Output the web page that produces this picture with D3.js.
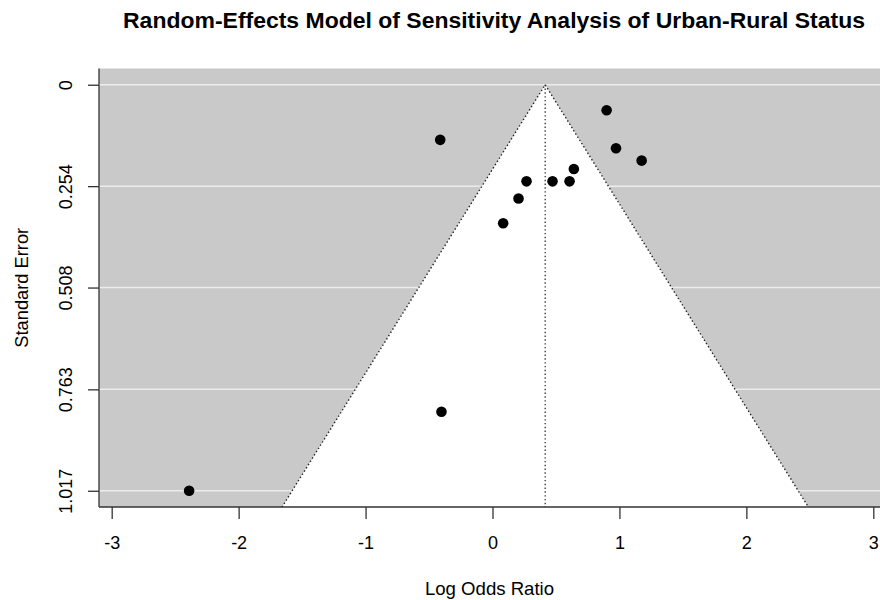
<!DOCTYPE html>
<html>
<head>
<meta charset="utf-8">
<script src="https://cdn.jsdelivr.net/npm/d3@7"></script>
<style>
  html, body { margin: 0; padding: 0; background: #fff; overflow: hidden; }
  svg { display: block; }
  text { font-family: "Liberation Sans", Arial, Helvetica, sans-serif; fill: #000; }
</style>
</head>
<body>
<svg id="chart" width="880" height="600"></svg>
<script>
// ---- Data ----
const titleText = "Random-Effects Model of Sensitivity Analysis of Urban-Rural Status";
const xLabel = "Log Odds Ratio";
const yLabel = "Standard Error";
const logOddsRatio = [0.899, -0.412, 0.973, 1.175, 0.641, 0.268, 0.473, 0.607, 0.205, 0.084, -0.402, -2.39];
const standardError = [0.064, 0.138, 0.159, 0.190, 0.211, 0.242, 0.242, 0.242, 0.285, 0.347, 0.819, 1.017];
const pooledEstimate = 0.415;
const xTicks = [-3, -2, -1, 0, 1, 2, 3];
const yTicks = [0, 0.254, 0.508, 0.763, 1.017];
const yTickLabels = ["0", "0.254", "0.508", "0.763", "1.017"];
const zCrit = 1.96;

// ---- Layout ----
const plot = { left: 99, right: 886, top: 68.5, bottom: 507 };
const svg = d3.select("#chart");

const maxSE = d3.max(standardError);
const yPad = 0.04 * maxSE;
const x = d3.scaleLinear().domain([-3.1, 3.1]).range([plot.left, plot.right]);
const y = d3.scaleLinear().domain([-yPad, maxSE + yPad]).range([plot.top, plot.bottom]);

const g = svg.append("g");

// background
g.append("rect")
  .attr("x", plot.left).attr("y", plot.top)
  .attr("width", plot.right - plot.left).attr("height", plot.bottom - plot.top)
  .attr("fill", "#c9c9c9");

// horizontal grid lines
g.selectAll("line.grid").data(yTicks).join("line")
  .attr("class", "grid")
  .attr("x1", plot.left).attr("x2", plot.right)
  .attr("y1", d => y(d)).attr("y2", d => y(d))
  .attr("stroke", "#ececec").attr("stroke-width", 1.5);

// funnel region
const seBottom = maxSE + yPad;
const funnelPts = [
  [pooledEstimate, 0],
  [pooledEstimate - zCrit * seBottom, seBottom],
  [pooledEstimate + zCrit * seBottom, seBottom]
];
g.append("polygon")
  .attr("points", funnelPts.map(p => [x(p[0]), y(p[1])].join(",")).join(" "))
  .attr("fill", "#ffffff");

// funnel dotted edges
const edgeLine = d3.line().x(d => x(d[0])).y(d => y(d[1]));
g.append("path")
  .attr("d", edgeLine([funnelPts[1], funnelPts[0], funnelPts[2]]))
  .attr("fill", "none").attr("stroke", "#222").attr("stroke-width", 1.4)
  .attr("stroke-dasharray", "1.4,2.4");

// reference line
g.append("line")
  .attr("x1", x(pooledEstimate)).attr("x2", x(pooledEstimate))
  .attr("y1", y(0)).attr("y2", y(seBottom))
  .attr("stroke", "#222").attr("stroke-width", 1.2)
  .attr("stroke-dasharray", "1.4,2.4");

// points
g.selectAll("circle.pt").data(logOddsRatio.map((v, i) => [v, standardError[i]])).join("circle")
  .attr("class", "pt")
  .attr("cx", d => x(d[0])).attr("cy", d => y(d[1]))
  .attr("r", 5.3).attr("fill", "#000");

// axes frame (L-shaped)
g.append("line")
  .attr("x1", plot.left).attr("x2", plot.left)
  .attr("y1", plot.top).attr("y2", plot.bottom)
  .attr("stroke", "#333").attr("stroke-width", 1.3);
g.append("line")
  .attr("x1", plot.left).attr("x2", 880)
  .attr("y1", plot.bottom).attr("y2", plot.bottom)
  .attr("stroke", "#333").attr("stroke-width", 1.3);

// x axis
const xAxis = d3.axisBottom(x).tickValues(xTicks).tickSize(12).tickPadding(6)
  .tickFormat(d => d3.format("d")(d).replace("−", "-"));
const xg = svg.append("g").attr("transform", `translate(0,${plot.bottom})`).call(xAxis);
xg.select(".domain").remove();
xg.selectAll(".tick line").attr("stroke", "#333").attr("stroke-width", 1.3);
xg.selectAll(".tick text").attr("font-size", 18).attr("font-family", "Liberation Sans, Arial, sans-serif")
  .attr("fill", "#000").attr("dy", null).attr("y", 42);

// y axis
const yAxis = d3.axisLeft(y).tickValues(yTicks).tickSize(11).tickPadding(6)
  .tickFormat((d, i) => yTickLabels[i]);
const yg = svg.append("g").attr("transform", `translate(${plot.left},0)`).call(yAxis);
yg.select(".domain").remove();
yg.selectAll(".tick line").attr("stroke", "#333").attr("stroke-width", 1.3);
yg.selectAll(".tick text")
  .attr("font-size", 18).attr("font-family", "Liberation Sans, Arial, sans-serif")
  .attr("fill", "#000")
  .attr("x", null).attr("dy", null)
  .attr("text-anchor", "middle")
  .attr("transform", "translate(-27,0) rotate(-90)");

// axis titles
svg.append("text")
  .attr("x", (plot.left + plot.right) / 2 - 3).attr("y", 595)
  .attr("text-anchor", "middle").attr("font-size", 18.6)
  .text(xLabel);
svg.append("text")
  .attr("transform", `translate(28,${(plot.top + plot.bottom) / 2}) rotate(-90)`)
  .attr("text-anchor", "middle").attr("font-size", 18.3)
  .text(yLabel);

// title, fitted to reference width
const title = svg.append("text")
  .attr("x", 494).attr("y", 28)
  .attr("text-anchor", "middle").attr("font-weight", "bold").attr("font-size", 19)
  .text(titleText);
const w = title.node().getComputedTextLength();
title.attr("font-size", 19 * 742 / w);
</script>
</body>
</html>
